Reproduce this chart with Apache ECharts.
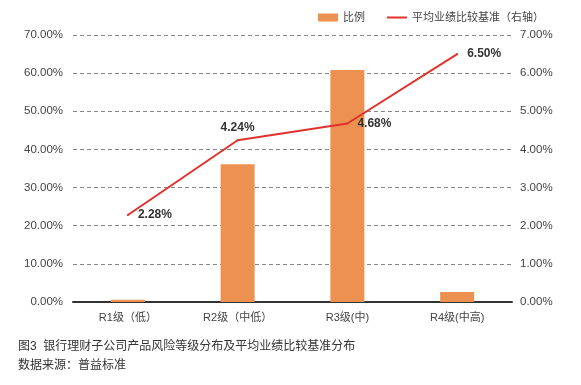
<!DOCTYPE html>
<html><head><meta charset="utf-8">
<script src="https://cdn.jsdelivr.net/npm/echarts@6/dist/echarts.min.js"></script>
<style>html,body{margin:0;padding:0;background:#fff}#c{width:581px;height:385px}</style>
</head><body><div id="c"></div>
<script>
const categories = ['R1级（低）', 'R2级（中低）', 'R3级(中)', 'R4级(中高)'];
const ratio = [0.6, 36.1, 60.8, 2.6];
const benchmark = [2.28, 4.24, 4.68, 6.50];
const benchLabelPos = ['right', 'top', 'right', 'right'];
const leftTicks = [0, 70, 10];
const rightTicks = [0, 7, 1];
const titleText = '图3  银行理财子公司产品风险等级分布及平均业绩比较基准分布';
const sourceText = '数据来源：普益标准';

const font = '"Liberation Sans", "Noto Sans CJK SC", sans-serif';
const chart = echarts.init(document.getElementById('c'));
chart.setOption({
  animation: false,
  textStyle: { fontFamily: font },
  legend: {
    top: 7, left: 313, itemWidth: 20, itemHeight: 8, itemGap: 22,
    textStyle: { fontSize: 11, color: '#444', fontFamily: font },
    data: [{ name: '比例', icon: 'rect' }, { name: '平均业绩比较基准（右轴）', icon: 'path://M0,0H20V2H0Z' }]
  },
  grid: { left: 73, right: 69, top: 35, bottom: 83 },
  xAxis: {
    type: 'category', data: categories,
    axisLine: { lineStyle: { color: '#333', width: 2 } },
    axisTick: { show: false },
    axisLabel: { color: '#444', fontSize: 11, margin: 10, fontFamily: font }
  },
  yAxis: [{
    type: 'value', min: leftTicks[0], max: leftTicks[1], interval: leftTicks[2],
    axisLabel: { formatter: v => v.toFixed(2) + '%', color: '#444', fontSize: 11.5, margin: 10, fontFamily: font },
    axisLine: { show: false }, axisTick: { show: false },
    splitLine: { lineStyle: { type: [4, 3], color: '#888' } }
  }, {
    type: 'value', min: rightTicks[0], max: rightTicks[1], interval: rightTicks[2],
    axisLabel: { formatter: v => v.toFixed(2) + '%', color: '#444', fontSize: 11.5, margin: 8, fontFamily: font },
    axisLine: { show: false }, axisTick: { show: false },
    splitLine: { show: false }
  }],
  series: [{
    name: '比例', type: 'bar', data: ratio, barWidth: 34,
    itemStyle: { color: '#EC9150' }
  }, {
    name: '平均业绩比较基准（右轴）', type: 'line', yAxisIndex: 1,
    data: benchmark.map((v, i) => ({
      value: v,
      label: { position: benchLabelPos[i], distance: benchLabelPos[i] === 'top' ? 6 : 9 }
    })),
    showSymbol: true, symbol: 'circle', symbolSize: 2,
    lineStyle: { color: '#E0322C', width: 2 },
    itemStyle: { color: '#E0322C' },
    label: { show: true, formatter: p => p.value.toFixed(2) + '%', color: '#333', fontSize: 12, fontWeight: 'bold', fontFamily: font }
  }],
  graphic: [
    { type: 'text', left: 18, top: 341, style: { text: titleText, fill: '#333', font: '12px ' + font } },
    { type: 'text', left: 18, top: 360, style: { text: sourceText, fill: '#333', font: '12px ' + font } }
  ]
});
</script></body></html>
